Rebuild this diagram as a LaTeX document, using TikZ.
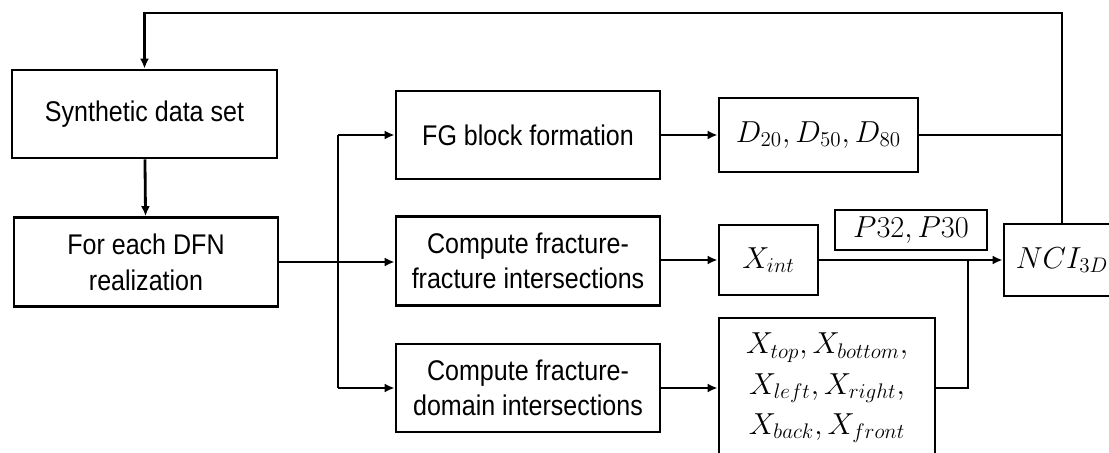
\documentclass[tikz,border=0pt]{standalone}
\usepackage{fontspec}
\setmainfont{Liberation Sans}[FakeStretch=0.88]
\usetikzlibrary{arrows.meta}
\begin{document}
\begin{tikzpicture}[x=0.02cm, y=-0.02cm, line width=1.6pt,
    blk/.style={draw, align=center, inner sep=0pt, font=\fontsize{16.2}{20.3}\selectfont},
    mth/.style={draw, align=center, inner sep=0pt, font=\fontsize{17.5}{22.8}\selectfont},
    arr/.style={-{Latex[length=2mm, width=1.8mm]}}]
    \useasboundingbox (0,0) rectangle (1109,453);
    \node[blk, minimum width=265*0.02cm, minimum height=88*0.02cm] (syn) at (144.5,114) {Synthetic data set};
    \node[blk, minimum width=264*0.02cm, minimum height=89*0.02cm] (dfn) at (146,262) {For each DFN\\realization};
    \node[blk, minimum width=264*0.02cm, minimum height=88*0.02cm] (fg) at (528,135) {FG block formation};
    \node[blk, minimum width=264*0.02cm, minimum height=89*0.02cm] (ff) at (528,261) {Compute fracture-\\fracture intersections};
    \node[blk, minimum width=264*0.02cm, minimum height=88*0.02cm] (fd) at (528,388) {Compute fracture-\\domain intersections};
    \node[mth, minimum width=199*0.02cm, minimum height=74*0.02cm] (dd) at (818.5,135) {$D_{20}, D_{50}, D_{80}$};
    \node[mth, minimum width=99*0.02cm, minimum height=70*0.02cm] (xint) at (768.5,260) {$X_{int}$};
    \node[mth, minimum width=152*0.02cm, minimum height=40*0.02cm] (p32) at (911,230) {$P32, P30$};
    \node[mth, minimum width=116*0.02cm, minimum height=72*0.02cm] (nci) at (1062,260) {$NCI_{3D}$};
    \node[mth, minimum width=216*0.02cm, minimum height=140*0.02cm] (xb) at (827,388) {$X_{top}, X_{bottom},$\\$X_{left}, X_{right},$\\$X_{back}, X_{front}$};
    \coordinate (split) at (338,262);
    \coordinate (top) at (1062,13);
    \coordinate (join) at (968,260);
    \draw[arr] (syn) -- (dfn);
    \draw (dfn.east) -- (split);
    \draw (split |- fg.west) -- (split |- fd.west);
    \draw[arr] (split |- fg.west) -- (fg.west);
    \draw[arr] (split) -- (ff.west |- split);
    \draw[arr] (split |- fd.west) -- (fd.west);
    \draw[arr] (fg) -- (dd);
    \draw[arr] (ff.east |- xint.west) -- (xint.west);
    \draw[arr] (fd.east |- xb.west) -- (xb.west);
    \draw (dd.east) -- (top |- dd.east);
    \draw[arr] (nci.north) -- (top) -- (top -| syn.north) -- (syn.north);
    \draw[arr] (xint.east) -- (nci.west |- xint.east);
    \draw (xb.east) -- (join |- xb.east) -- (join);
  \end{tikzpicture}
\end{document}
